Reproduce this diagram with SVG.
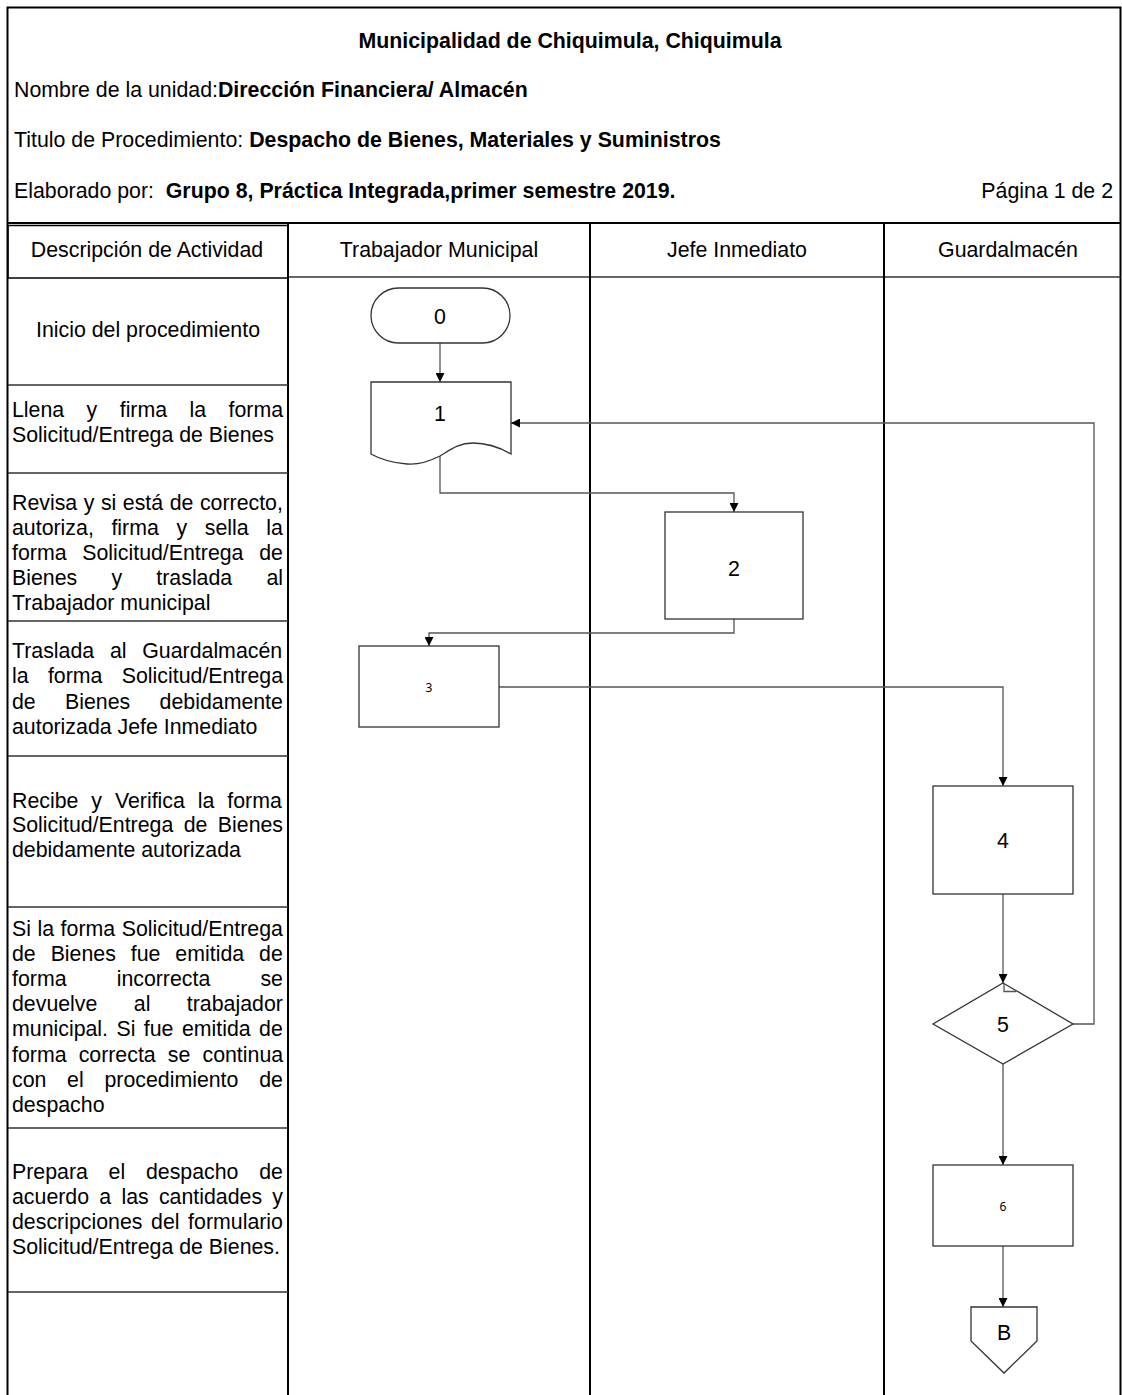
<svg xmlns="http://www.w3.org/2000/svg" width="1122" height="1395" viewBox="0 0 1122 1395">
<style>
text{font-family:"Liberation Sans",Arial,sans-serif;fill:#000}
.t{font-size:21.33px}
.b{font-weight:bold}
.d{font-size:21.33px}
.n{font-size:21.33px;text-anchor:middle}
.s{font-family:"Noto Sans","Liberation Sans",sans-serif;font-size:12px;text-anchor:middle}
.grid{stroke:#000;stroke-width:2;fill:none}
.row{stroke:#333;stroke-width:1.5;fill:none}
.shape{fill:#fff;stroke:#333;stroke-width:1.3}
.conn{fill:none;stroke:#555;stroke-width:1.3}
</style>
<defs>
<marker id="ah" viewBox="0 0 10 10" refX="10" refY="5" markerWidth="9" markerHeight="9" markerUnits="userSpaceOnUse" orient="auto">
<path d="M0,0 L10,5 L0,10 Z" fill="#000"/>
</marker>
</defs>
<rect width="1122" height="1395" fill="#fff"/>

<g id="frame">
<path class="grid" d="M7.5,1395 V7.5 H1120.5 V1395"/>
<path class="grid" d="M7.5,223 H1120.5"/>
<path class="row" d="M288,277 H1120.5" stroke-width="2"/>
<rect x="8" y="225.5" width="280" height="52.5" fill="none" stroke="#000" stroke-width="1.5"/>
<path class="grid" d="M288,223 V1395" stroke-width="1.5"/>
<path class="grid" d="M590,223 V1395"/>
<path class="grid" d="M884,223 V1395"/>
<path class="row" d="M8,385 H288 M8,473 H288 M8,621 H288 M8,756 H288 M8,907 H288 M8,1128 H288 M8,1292 H288"/>
</g>

<g id="header">
<text class="t b" x="570" y="48" text-anchor="middle">Municipalidad de Chiquimula, Chiquimula</text>
<text class="t" x="14" y="97">Nombre de la unidad:<tspan class="b">Dirección Financiera/ Almacén</tspan></text>
<text class="t" x="14" y="147" xml:space="preserve">Titulo de Procedimiento: <tspan class="b">Despacho de Bienes, Materiales y Suministros</tspan></text>
<text class="t" x="14" y="198" xml:space="preserve">Elaborado por:  <tspan class="b">Grupo 8, Práctica Integrada,primer semestre 2019.</tspan></text>
<text class="t" x="1113" y="198" text-anchor="end">Página 1 de 2</text>
<text class="t" x="147" y="257" text-anchor="middle">Descripción de Actividad</text>
<text class="t" x="439" y="257" text-anchor="middle">Trabajador Municipal</text>
<text class="t" x="737" y="257" text-anchor="middle">Jefe Inmediato</text>
<text class="t" x="1008" y="257" text-anchor="middle">Guardalmacén</text>
</g>

<g id="desc-0">
<text class="d" x="148" y="337" text-anchor="middle">Inicio del procedimiento</text>
</g>
<g id="desc-1">
<text class="d" x="12" y="417" word-spacing="16.5">Llena y firma la forma</text>
<text class="d" x="12" y="441.5">Solicitud/Entrega de Bienes</text>
</g>
<g id="desc-2">
<text class="d" x="12" y="509.5" word-spacing="0.6">Revisa y si está de correcto,</text>
<text class="d" x="12" y="535" word-spacing="11.7">autoriza, firma y sella la</text>
<text class="d" x="12" y="560" word-spacing="9.8">forma Solicitud/Entrega de</text>
<text class="d" x="12" y="585" word-spacing="28.3">Bienes y traslada al</text>
<text class="d" x="12" y="610">Trabajador municipal</text>
</g>
<g id="desc-3">
<text class="d" x="12" y="657.5" word-spacing="9.8">Traslada al Guardalmacén</text>
<text class="d" x="12" y="683" word-spacing="13.4">la forma Solicitud/Entrega</text>
<text class="d" x="12" y="708.5" word-spacing="23.4">de Bienes debidamente</text>
<text class="d" x="12" y="733.5">autorizada Jefe Inmediato</text>
</g>
<g id="desc-4">
<text class="d" x="12" y="807.5" word-spacing="7">Recibe y Verifica la forma</text>
<text class="d" x="12" y="832" word-spacing="4.5">Solicitud/Entrega de Bienes</text>
<text class="d" x="12" y="857">debidamente autorizada</text>
</g>
<g id="desc-5">
<text class="d" x="12" y="935.5" word-spacing="0.6">Si la forma Solicitud/Entrega</text>
<text class="d" x="12" y="960.7" word-spacing="9">de Bienes fue emitida de</text>
<text class="d" x="12" y="985.9" word-spacing="44.2">forma incorrecta se</text>
<text class="d" x="12" y="1011.1" word-spacing="30.5">devuelve al trabajador</text>
<text class="d" x="12" y="1036.3" word-spacing="2.5">municipal. Si fue emitida de</text>
<text class="d" x="12" y="1061.5" word-spacing="6.2">forma correcta se continua</text>
<text class="d" x="12" y="1086.7" word-spacing="14.8">con el procedimiento de</text>
<text class="d" x="12" y="1111.9">despacho</text>
</g>
<g id="desc-6">
<text class="d" x="12" y="1178.5" word-spacing="14.8">Prepara el despacho de</text>
<text class="d" x="12" y="1203.7" word-spacing="4.3">acuerdo a las cantidades y</text>
<text class="d" x="12" y="1228.7" word-spacing="2.7">descripciones del formulario</text>
<text class="d" x="12" y="1253.8">Solicitud/Entrega de Bienes.</text>
</g>

<g id="connectors">
<path class="conn" d="M440,343 V382" marker-end="url(#ah)"/>
<path class="conn" d="M440,456 V493 H734 V512" marker-end="url(#ah)"/>
<path class="conn" d="M734,619 V633 H429 V646" marker-end="url(#ah)"/>
<path class="conn" d="M499,687 H1003 V786" marker-end="url(#ah)"/>
<path class="conn" d="M1003,894 V983" marker-end="url(#ah)"/>
<path class="conn" d="M1073,1024 H1094 V423 H511" marker-end="url(#ah)"/>
<path class="conn" d="M1003,1064 V1165" marker-end="url(#ah)"/>
<path class="conn" d="M1003,1246 V1307" marker-end="url(#ah)"/>
</g>

<g id="node-0">
<rect class="shape" x="371" y="288" width="139" height="55" rx="27.5"/>
<text class="n" x="440" y="323.5">0</text>
</g>
<g id="node-1">
<path class="shape" d="M371,382 H511 V454 C499,447 487,443 473,443 C458,443 450,450 440,456 C428,462 418,465 407,464 C392,463 380,459 371,454 Z"/>
<text class="n" x="440" y="420.5">1</text>
</g>
<g id="node-2">
<rect class="shape" x="665" y="512" width="138" height="107"/>
<text class="n" x="734" y="575.5">2</text>
</g>
<g id="node-3">
<rect class="shape" x="359" y="646" width="140" height="81"/>
<text class="s" x="429" y="691.5">3</text>
</g>
<g id="node-4">
<rect class="shape" x="933" y="786" width="140" height="108"/>
<text class="n" x="1003" y="847.5">4</text>
</g>
<g id="node-5">
<path class="shape" d="M1003,983 L1073,1024 L1003,1064 L933,1024 Z"/>
<path class="conn" d="M1004,984 V991.5 H1016" stroke="#333"/>
<text class="n" x="1003" y="1031.5">5</text>
</g>
<g id="node-6">
<rect class="shape" x="933" y="1165" width="140" height="81"/>
<text class="s" x="1003" y="1210.5">6</text>
</g>
<g id="node-B">
<path class="shape" d="M971,1307 H1037 V1341 L1004,1373 L971,1341 Z"/>
<text class="n" x="1004" y="1339.5">B</text>
</g>
</svg>
